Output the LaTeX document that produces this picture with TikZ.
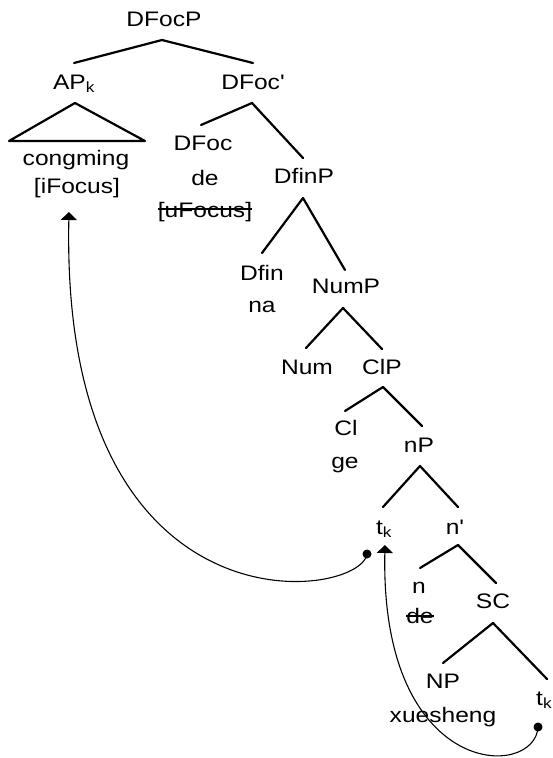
\documentclass[tikz,border=0pt]{standalone}
\usepackage{fontspec}
\setmainfont{Liberation Sans}[FakeStretch=1.17, Ligatures=TeXOff]
\usetikzlibrary{arrows.meta}
\tikzset{
  lbl/.style={anchor=base, inner sep=0pt},
  branch/.style={line width=2.2pt, line cap=round, line join=round},
  strike/.style={line width=1.3pt},
  movearrow/.style={line width=1.1pt, -{Triangle[width=16pt,length=8pt]}},
  dotnode/.style={circle, fill, inner sep=0pt, minimum size=9pt}
}
\begin{document}
\begin{tikzpicture}[x=1pt, y=-1pt, font=\fontsize{21}{30}\selectfont]
\useasboundingbox (0,0) rectangle (553,758);
% labels
\node[lbl] (DFocP) at (164,26) {DFocP};
\node[lbl] (APk) at (74,89) {AP\textsubscript{k}};
\node[lbl] (DFocbar) at (253,89) {DFoc'};
\node[lbl] (congming) at (76,165) {congming};
\node[lbl] (iFocus) at (77,193) {[iFocus]};
\node[lbl] (DFoc) at (203,150) {DFoc};
\node[lbl] (deA) at (205,185) {de};
\node[lbl] (uFocus) at (205,217) {[uFocus]};
\node[lbl] (DfinP) at (304,183) {DfinP};
\node[lbl] (Dfin) at (262,280) {Dfin};
\node[lbl] (na) at (262,312) {na};
\node[lbl] (NumP) at (346,293) {NumP};
\node[lbl] (Num) at (307,374) {Num};
\node[lbl] (ClP) at (382,374) {ClP};
\node[lbl] (Cl) at (346,435) {Cl};
\node[lbl] (ge) at (345,468) {ge};
\node[lbl] (nP) at (419,452) {nP};
\node[lbl] (tkA) at (384,534) {t\textsubscript{k}};
\node[lbl] (nbar) at (455,534) {n'};
\node[lbl] (n) at (419,593) {n};
\node[lbl] (deB) at (420,623) {de};
\node[lbl] (SC) at (493,608) {SC};
\node[lbl] (NP) at (443,688) {NP};
\node[lbl] (xuesheng) at (443,722) {xuesheng};
\node[lbl, anchor=base west] (tkB) at (536,705) {t\textsubscript{k}};
% strike-outs
\draw[strike] ([yshift=8pt]uFocus.base west) -- ([yshift=8pt]uFocus.base east);
\draw[strike] ([yshift=7pt]deB.base west) -- ([yshift=7pt]deB.base east);
% branch points
\coordinate (DFocP-b) at (162,40);
\coordinate (APk-t) at (74,63);
\coordinate (DFocbar-t) at (253,63);
\coordinate (APk-b) at (75,103);
\coordinate (tri-l) at (9,141);
\coordinate (tri-r) at (145,141);
\coordinate (DFocbar-b) at (252,103);
\coordinate (DFoc-t) at (201,125);
\coordinate (DfinP-t) at (303,158);
\coordinate (DfinP-b) at (303,198);
\coordinate (Dfin-t) at (262,253);
\coordinate (NumP-t) at (345,270);
\coordinate (NumP-b) at (343,308);
\coordinate (Num-t) at (306,348);
\coordinate (ClP-t) at (382,349);
\coordinate (ClP-b) at (383,387);
\coordinate (Cl-t) at (345,411);
\coordinate (nP-t) at (422,426);
\coordinate (nP-b) at (420,466);
\coordinate (tkA-t) at (383,507);
\coordinate (nbar-t) at (458,507);
\coordinate (nbar-b) at (458,545);
\coordinate (n-t) at (420,568);
\coordinate (SC-t) at (496,583);
\coordinate (SC-b) at (493,623);
\coordinate (NP-t) at (443,663);
\coordinate (tkB-t) at (547,679);
% branches
\draw[branch] (APk-t) -- (DFocP-b) -- (DFocbar-t);
\draw[branch] (tri-l) -- (APk-b) -- (tri-r) -- cycle;
\draw[branch] (DFoc-t) -- (DFocbar-b) -- (DfinP-t);
\draw[branch] (Dfin-t) -- (DfinP-b) -- (NumP-t);
\draw[branch] (Num-t) -- (NumP-b) -- (ClP-t);
\draw[branch] (Cl-t) -- (ClP-b) -- (nP-t);
\draw[branch] (tkA-t) -- (nP-b) -- (nbar-t);
\draw[branch] (n-t) -- (nbar-b) -- (SC-t);
\draw[branch] (NP-t) -- (SC-b) -- (tkB-t);
% movement arrows
\node[dotnode] (dot1) at (367,554) {};
\coordinate (tgt1) at (69,212);
\draw[movearrow] (dot1.center) .. controls (360,600) and (60,640) .. (tgt1);
\node[dotnode] (dot2) at (538,727) {};
\coordinate (tgt2) at (385,545);
\draw[movearrow] (dot2.center) .. controls (535,780) and (380,780) .. (tgt2);
\end{tikzpicture}
\end{document}
